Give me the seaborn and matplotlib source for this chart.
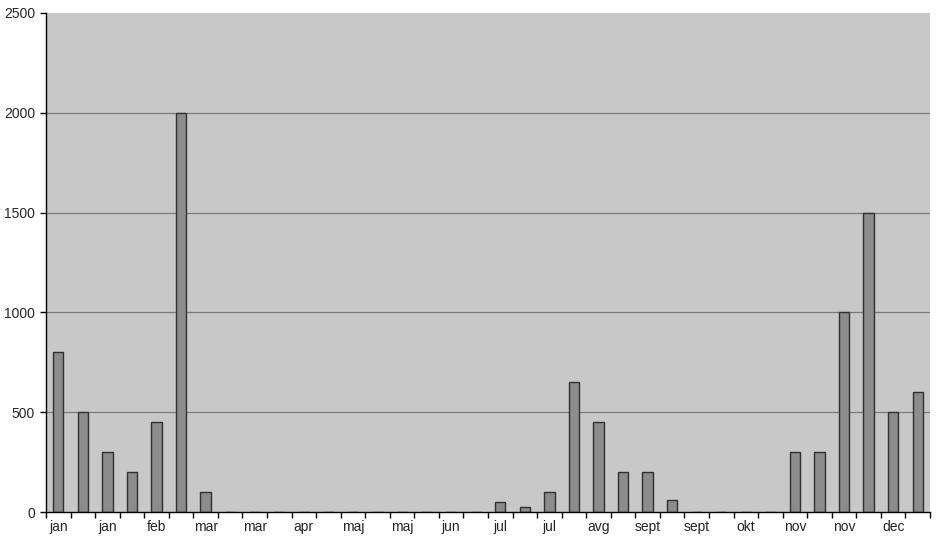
import numpy as np
import pandas as pd
import seaborn as sns
import matplotlib.pyplot as plt
from matplotlib.ticker import FixedLocator

months = ["jan", "feb", "mar", "apr", "maj", "jun", "jul", "avg", "sept", "okt", "nov", "dec"]
periods = [m for m in months for _ in range(3)]   # three decades per month
values = [800, 500, 300, 200, 450, 2000, 100, 0, 0, 0, 0, 0,
          0, 0, 0, 0, 0, 0, 50, 25, 100, 650, 450, 200,
          200, 60, 0, 0, 0, 0, 300, 300, 1000, 1500, 500, 600]
yticks = [0, 500, 1000, 1500, 2000, 2500]

df = pd.DataFrame({"pos": [str(i) for i in range(len(values))], "val": values})

sns.set_style("white")
plt.rcParams['font.family'] = ['Liberation Sans', 'DejaVu Sans']

fig = plt.figure(figsize=(9.42, 5.46), dpi=100)
ax = fig.add_axes([46 / 942, 34 / 546, 884 / 942, 499 / 546])
ax.set_facecolor("#c8c8c8")

sns.barplot(data=df, x="pos", y="val", order=df["pos"], color="#8c8c8c",
            width=0.42, edgecolor="#303030", linewidth=1, saturation=1, ax=ax)

ax.set_ylim(0, 2500)
ax.set_xlim(-0.5, len(values) - 0.5)
ax.set_yticks(yticks)
ax.set_yticklabels([str(t) for t in yticks], fontsize=10)
for t in yticks[1:-1]:
    ax.axhline(t, color="#7a7a7a", linewidth=0.9, zorder=0.5)

# labels on every second bar, tick marks at boundaries
ax.set_xticks(range(0, len(values), 2))
ax.set_xticklabels(periods[::2], fontsize=10)
ax.tick_params(axis="x", which="major", length=0, pad=6)
ax.xaxis.set_minor_locator(FixedLocator(np.arange(-0.5, len(values), 1)))
ax.tick_params(axis="x", which="minor", length=4, width=1, color="black", bottom=True)
ax.tick_params(axis="y", length=4, width=1, color="black", left=True, pad=4)

ax.set_xlabel("")
ax.set_ylabel("")
for side in ["top", "right"]:
    ax.spines[side].set_visible(False)
ax.spines["left"].set_color("black")
ax.spines["bottom"].set_color("black")
ax.spines["left"].set_linewidth(1)
ax.spines["bottom"].set_linewidth(1)

fig.savefig("out.png", dpi=100, facecolor="white")
